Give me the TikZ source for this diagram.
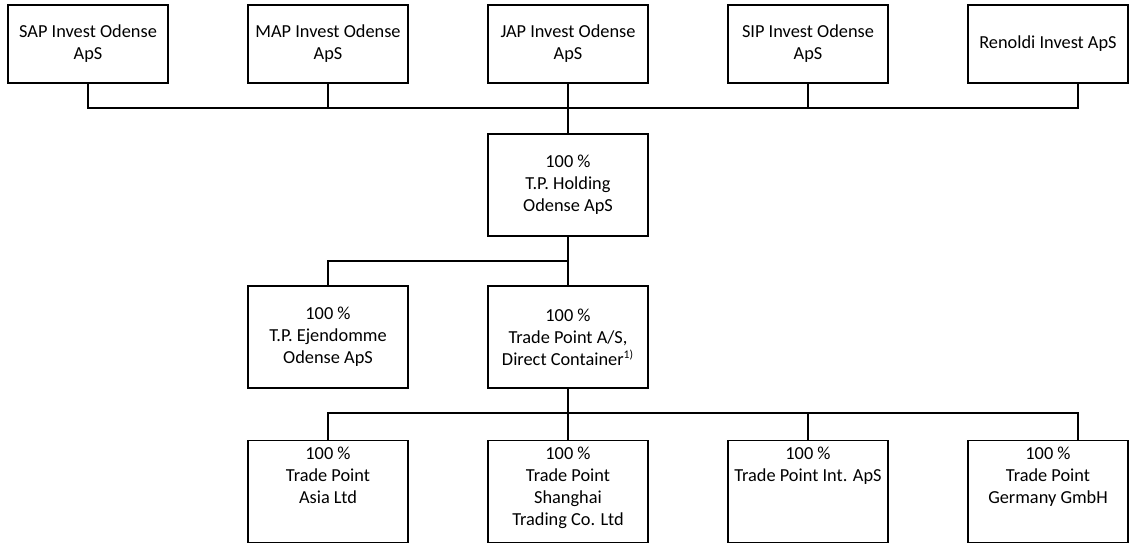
\documentclass[tikz,border=0pt]{standalone}
\usepackage{fontspec}
\setmainfont{Carlito}
\usetikzlibrary{calc}

\tikzset{
  firm/.style={draw, line width=0.8pt, inner sep=0pt, outer sep=0pt,
    minimum width=96pt, minimum height=61.2pt, align=center,
    font=\fontsize{11pt}{13.2pt}\selectfont},
  owner/.style={firm, minimum height=46.8pt},
  link/.style={line width=0.8pt}
}
\newcommand{\leaftext}[1]{\parbox[c][53pt][t]{94pt}{\centering #1}}

\begin{document}
\begin{tikzpicture}[x=0.6pt,y=-0.6pt]
		\useasboundingbox (0,0) rectangle (1129,544);
		% owners
		\node[owner] (sap) at (88,44) {SAP Invest Odense\\ApS};
		\node[owner] (map) at (328,44) {MAP Invest Odense\\ApS};
		\node[owner] (jap) at (568,44) {JAP Invest Odense\\ApS};
		\node[owner] (sip) at (808,44) {SIP Invest Odense\\ApS};
		\node[owner] (ren) at (1048,44) {Renoldi Invest ApS};
		% holding
		\node[firm] (hold) at (568,185) {100 \%\\T.P. Holding\\Odense ApS};
		\node[firm] (ejd) at (328,337) {100 \%\\T.P. Ejendomme\\Odense ApS};
		\node[firm] (tpas) at (568,337) {100 \%\\Trade Point A/S,\\Direct Container\textsuperscript{\scriptsize 1)}};
		% subsidiaries
		\node[firm] (asia) at (328,491.5) {\leaftext{100 \%\\Trade Point\\Asia Ltd}};
		\node[firm] (sha) at (568,491.5) {\leaftext{100 \%\\Trade Point\\Shanghai\\Trading Co. Ltd}};
		\node[firm] (int) at (808,491.5) {\leaftext{100 \%\\Trade Point Int. ApS}};
		\node[firm] (ger) at (1048,491.5) {\leaftext{100 \%\\Trade Point\\Germany GmbH}};
		% buses
		\coordinate (topbus) at (568,108);
		\coordinate (midbus) at (568,261);
		\coordinate (lowbus) at (568,413);
		\coordinate (renstem) at ([xshift=18pt]ren.south);
		\coordinate (gerstem) at ([xshift=18pt]ger.north);
		\draw[link] (sap.south) -- (sap.south |- topbus) -- (renstem |- topbus) -- (renstem);
		\draw[link] (map.south) -- (map.south |- topbus);
		\draw[link] (sip.south) -- (sip.south |- topbus);
		\draw[link] (jap.south) -- (hold.north);
		\draw[link] (hold.south) -- (tpas.north);
		\draw[link] (midbus) -- (midbus -| ejd.north) -- (ejd.north);
		\draw[link] (tpas.south) -- (sha.north);
		\draw[link] (asia.north) -- (asia.north |- lowbus) -- (gerstem |- lowbus) -- (gerstem);
		\draw[link] (int.north) -- (int.north |- lowbus);
	\end{tikzpicture}
\end{document}
